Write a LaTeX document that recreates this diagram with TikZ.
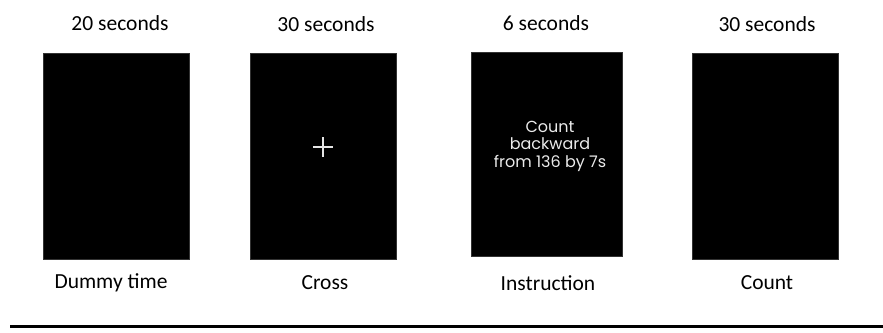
\documentclass[tikz,border=0pt]{standalone}
\usepackage{fontspec}
\setmainfont{Carlito}
\newfontfamily\gothicfont{Poppins}
\usepackage{tikz}
\usetikzlibrary{positioning}

\tikzset{
  screen/.style={fill=black,draw=black!80,minimum width=146pt,minimum height=206pt,inner sep=0pt},
  phase/.style={font=\fontsize{21.5}{24}\selectfont,inner sep=0pt},
  cue/.style={font=\gothicfont\fontsize{16}{17.5}\selectfont,text=black!8,align=center}
}

\begin{document}
\begin{tikzpicture}[x=1pt,y=-1pt]
\useasboundingbox (0,0) rectangle (883,332);
% the four screens
\node[screen] (dummy) at (116,156) {};
\node[screen] (cross) at (323,156) {};
\node[screen,minimum width=151pt,minimum height=204pt] (instr) at (546.5,154) {};
\node[screen] (count) at (765.5,156) {};
% durations
\node[phase] (dummyT) at (120,23) {20 seconds};
\node[phase] (crossT) at (326,24) {30 seconds};
\node[phase] (instrT) at (546,23) {6 seconds};
\node[phase] (countT) at (767,24) {30 seconds};
% names
\node[phase] (dummyB) at (111,283) {Dummy time};
\node[phase] (crossB) at (325,283) {Cross};
\node[phase] (instrB) at (548,283) {Instruction};
\node[phase] (countB) at (767,283) {Count};
% screen contents
\draw[black!10,line width=1.1pt] (313,147)--(333,147) (323,137)--(323,157);
\node[cue] (task) at (550,146) {Count\\backward\\from 136 by 7s};
% time line
\draw[line width=3pt] (10,326.5)--(883,326.5);
\end{tikzpicture}
\end{document}
